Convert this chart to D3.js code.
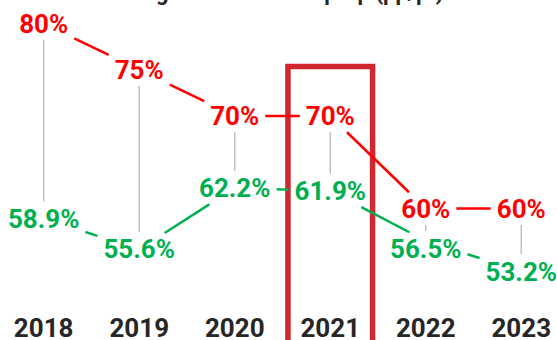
<!DOCTYPE html>
<html>
<head>
<meta charset="utf-8">
<script src="https://cdn.jsdelivr.net/npm/d3@7"></script>
<style>
  html, body { margin: 0; padding: 0; background: #ffffff; }
  svg { display: block; }
  text { font-family: Roboto, "Noto Sans", sans-serif; font-weight: 700; }
</style>
</head>
<body>
<svg id="chart" width="557" height="340"></svg>
<script>
// Yearly target vs. actual share
const years = ["2018", "2019", "2020", "2021", "2022", "2023"];
const targetValues = [80, 75, 70, 70, 60, 60];
const actualValues = [58.9, 55.6, 62.2, 61.9, 56.5, 53.2];
const highlightYear = "2021";
const chartTitle = "Target vs actual: step-up (pp/pt)";

const W = 557, H = 340;
const FS = 26;                 // value / year label size
const CAP = FS * 0.711;        // cap height of the label font
const PADX = 6, PADY = 7;      // gap kept between labels and connecting lines
const MIN_GAP = 40;            // minimum vertical distance between the two labels of a year

const RED = "#ff0000", GREEN = "#00b050", GREY = "#bfbfbf", BOX = "#d0262d", INK = "#262626";

const svg = d3.select("#chart");

const x = d3.scalePoint().domain(years).range([43.7, 521.3]);
const y = d3.scaleLinear().domain([60, 80]).range([208.5, 23.5]);

const fmtTarget = v => d3.format(".0f")(v) + "%";
const fmtActual = v => d3.format(".1f")(v) + "%";

// points: value position and label centre (actual label pushed down if crowded)
const target = years.map((yr, i) => ({
  year: yr, v: targetValues[i], px: x(yr), py: y(targetValues[i]),
  lx: x(yr), ly: y(targetValues[i]), text: fmtTarget(targetValues[i])
}));
const actual = years.map((yr, i) => {
  const py = y(actualValues[i]);
  const ly = Math.max(py, target[i].ly + MIN_GAP);
  return { year: yr, v: actualValues[i], px: x(yr), py, lx: x(yr), ly, text: fmtActual(actualValues[i]) };
});

// title (mostly above the visible area)
svg.append("text")
  .attr("x", 284).attr("y", -0.5)
  .attr("text-anchor", "middle")
  .attr("font-size", 22)
  .attr("fill", INK)
  .text(chartTitle);

// highlight frame around the chosen year
const step = x.step();
svg.append("rect")
  .attr("x", x(highlightYear) - step * 0.443)
  .attr("y", 66.5)
  .attr("width", step * 0.886)
  .attr("height", H + 40)
  .attr("fill", "none")
  .attr("stroke", BOX)
  .attr("stroke-width", 5.5);

// year labels
svg.append("g").selectAll("text")
  .data(years)
  .join("text")
  .attr("x", d => x(d))
  .attr("y", 337)
  .attr("text-anchor", "middle")
  .attr("font-size", FS)
  .attr("fill", INK)
  .text(d => d);

// value labels (drawn first so their widths can be measured)
const lineLayer = svg.append("g");
const labelLayer = svg.append("g");

function drawLabels(data, color) {
  labelLayer.append("g").selectAll("text")
    .data(data)
    .join("text")
    .attr("x", d => d.lx)
    .attr("y", d => d.ly + CAP / 2)
    .attr("text-anchor", "middle")
    .attr("font-size", FS)
    .attr("fill", color)
    .text(d => d.text)
    .each(function (d) { d.w = this.getComputedTextLength(); });
}
drawLabels(target, RED);
drawLabels(actual, GREEN);

function box(d) {
  return { x0: d.lx - d.w / 2 - PADX, x1: d.lx + d.w / 2 + PADX,
           y0: d.ly - CAP / 2 - PADY, y1: d.ly + CAP / 2 + PADY };
}

// slab intersection of segment A->B with a box: returns [tEnter, tExit]
function slab(A, B, b) {
  let t0 = -Infinity, t1 = Infinity;
  const dx = B[0] - A[0], dy = B[1] - A[1];
  [[dx, A[0], b.x0, b.x1], [dy, A[1], b.y0, b.y1]].forEach(([d, a, lo, hi]) => {
    if (Math.abs(d) < 1e-9) {
      if (a < lo || a > hi) { t0 = Infinity; t1 = -Infinity; }
    } else {
      const ta = (lo - a) / d, tb = (hi - a) / d;
      t0 = Math.max(t0, Math.min(ta, tb));
      t1 = Math.min(t1, Math.max(ta, tb));
    }
  });
  return [t0, t1];
}

function drawSeries(data, color) {
  const segs = [];
  for (let i = 0; i < data.length - 1; i++) {
    const a = data[i], b = data[i + 1];
    const A = [a.px, a.py], B = [b.px, b.py];
    const sa = slab(A, B, box(a));
    const sb = slab(A, B, box(b));
    const tStart = sa[0] <= sa[1] ? Math.max(0, sa[1]) : 0;
    const tEnd = sb[0] <= sb[1] ? Math.min(1, sb[0]) : 1;
    if (tEnd > tStart) {
      segs.push([
        [A[0] + (B[0] - A[0]) * tStart, A[1] + (B[1] - A[1]) * tStart],
        [A[0] + (B[0] - A[0]) * tEnd, A[1] + (B[1] - A[1]) * tEnd]
      ]);
    }
  }
  lineLayer.append("g").selectAll("path")
    .data(segs)
    .join("path")
    .attr("d", d => d3.line()(d))
    .attr("fill", "none")
    .attr("stroke", color)
    .attr("stroke-width", 2.5);
}

// grey connectors between target and actual labels of each year
lineLayer.append("g").selectAll("line")
  .data(years.map((yr, i) => ({ x: x(yr), t: target[i], a: actual[i] })))
  .join("line")
  .attr("x1", d => d.x).attr("x2", d => d.x)
  .attr("y1", d => d.t.ly + CAP / 2 + PADY)
  .attr("y2", d => d.a.ly - CAP / 2 - 8)
  .attr("stroke", GREY)
  .attr("stroke-width", 1.5);

drawSeries(target, RED);
drawSeries(actual, GREEN);
</script>
</body>
</html>
